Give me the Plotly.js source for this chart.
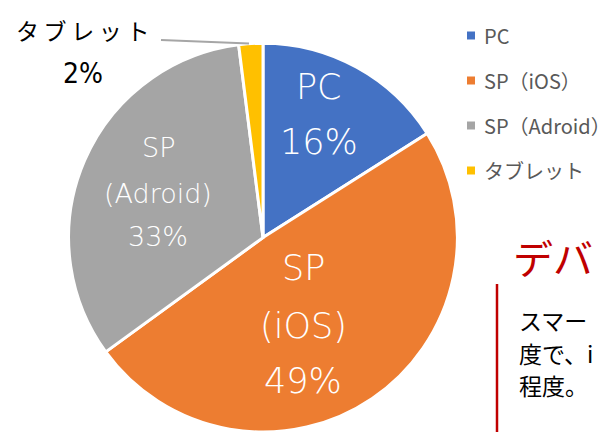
<!DOCTYPE html>
<html>
<head>
<meta charset="utf-8">
<script src="https://cdn.plot.ly/plotly-3.0.1.min.js"></script>
<style>html,body{margin:0;padding:0;background:#fff;}#chart{width:614px;height:432px;}</style>
</head>
<body>
<div id="chart"></div>
<script>
// ---- data ----
const categories = ["PC", "SP（iOS）", "SP（Adroid）", "タブレット"];
const sliceNames = [["PC"], ["SP", "(iOS)"], ["SP", "(Adroid)"], ["タブレット"]];
const values = [16, 49, 33, 2];
const colors = ["#4472C4", "#ED7D31", "#A5A5A5", "#FFC000"];
const titleText = "デバ";
const bodyLines = ["スマー", "度で、i", "程度。"];

const W = 614, H = 432;
const px = x => x / W;
const py = y => 1 - y / H;
const total = values.reduce((a, b) => a + b, 0);
const pct = values.map(v => Math.round(v / total * 100) + "%");

const labelFont = "'DejaVu Sans', Lato, sans-serif";
const annotations = [];
const shapes = [];

// in-slice labels (pixel layout positions per slice)
const insideLayout = [
  {x: 319, ys: [87, 142], size: 35},
  {x: 303, ys: [268, 326, 381], size: 35},
  {x: 158, ys: [147, 193, 236], size: 27},
  null
];
insideLayout.forEach((L, i) => {
  if (!L) return;
  const lines = sliceNames[i].concat([pct[i]]);
  lines.forEach((t, k) => {
    annotations.push({xref: "paper", yref: "paper", x: px(L.x), y: py(L.ys[k]),
      xanchor: "center", yanchor: "middle", showarrow: false, text: t,
      font: {family: labelFont, size: L.size, color: "#ffffff", weight: 200}});
  });
});

// outside label for small slice
annotations.push({xref: "paper", yref: "paper", x: px(82), y: py(30), xanchor: "center", yanchor: "middle",
  showarrow: false, text: sliceNames[3][0].split("").join("\u2009"),
  font: {family: "'Noto Sans CJK JP', sans-serif", size: 23, color: "#000000"}});
annotations.push({xref: "paper", yref: "paper", x: px(83), y: py(73), xanchor: "center", yanchor: "middle",
  showarrow: false, text: pct[3],
  font: {family: "'DejaVu Sans Condensed', 'Liberation Sans Narrow', sans-serif", size: 28, color: "#000000", stretch: "condensed"}});
shapes.push({type: "line", xref: "paper", yref: "paper", x0: px(161), y0: py(40), x1: px(249), y1: py(43.5),
  line: {color: "#A6A6A6", width: 2}});

// manual legend
categories.forEach((c, i) => {
  const cy = 35.5 + i * 45;
  shapes.push({type: "rect", xref: "paper", yref: "paper", x0: px(467), x1: px(475), y0: py(cy - 4), y1: py(cy + 4),
    fillcolor: colors[i], line: {width: 0}});
  annotations.push({xref: "paper", yref: "paper", x: px(482), y: py(cy), xanchor: "left", yanchor: "middle",
    showarrow: false, text: c, font: {family: "'Noto Sans CJK JP', sans-serif", size: 20, color: "#595959"}});
});

// side note
annotations.push({xref: "paper", yref: "paper", x: px(511), y: py(257), xanchor: "left", yanchor: "middle",
  showarrow: false, text: titleText, font: {family: "'Noto Sans CJK JP', sans-serif", size: 40, color: "#C00000"}});
shapes.push({type: "line", xref: "paper", yref: "paper", x0: px(497), x1: px(497), y0: py(284), y1: py(432),
  line: {color: "#C00000", width: 2.5}});
bodyLines.forEach((t, k) => {
  annotations.push({xref: "paper", yref: "paper", x: px(517), y: py(320 + k * 32.5), xanchor: "left", yanchor: "middle",
    showarrow: false, text: t, font: {family: "'Noto Sans CJK JP', sans-serif", size: 23, color: "#000000"}});
});

const trace = {
  type: "pie",
  labels: categories,
  values: values,
  sort: false,
  direction: "clockwise",
  rotation: 0,
  textinfo: "none",
  hoverinfo: "label+percent",
  marker: {colors: colors, line: {color: "#ffffff", width: 3}},
  domain: {x: [px(263 - 194.4), px(263 + 194.4)], y: [0, 0.9]},
  showlegend: false
};

Plotly.newPlot("chart", [trace], {
  width: W, height: H,
  margin: {l: 0, r: 0, t: 0, b: 0},
  paper_bgcolor: "#ffffff",
  showlegend: false,
  annotations: annotations,
  shapes: shapes
}, {staticPlot: true});
</script>
</body>
</html>
